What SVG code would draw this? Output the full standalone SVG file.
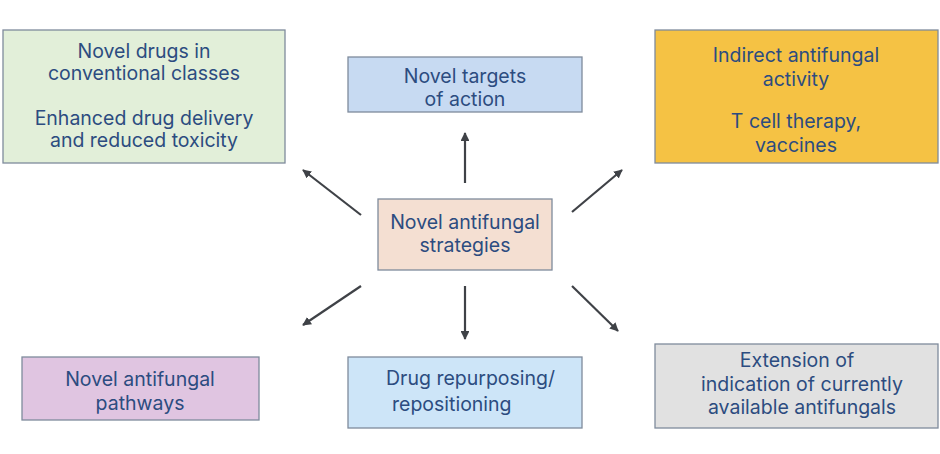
<svg xmlns="http://www.w3.org/2000/svg" width="940" height="454" viewBox="0 0 940 454">
<defs>
<marker id="ah" viewBox="0 0 10 10" refX="9" refY="5" markerWidth="4" markerHeight="4" orient="auto" markerUnits="strokeWidth">
<path d="M0,0 L10,5 L0,10 z" fill="#3f4247"/>
</marker>
<style>
.box{stroke:#7f8b9c;stroke-width:1.3}
.t{font-family:Inter,"Liberation Sans",sans-serif;font-size:19.5px;fill:#2c4c80;text-anchor:middle}
.c{stroke:#3f4247;stroke-width:2.2;fill:none;marker-end:url(#ah)}
</style>
</defs>
<rect width="940" height="454" fill="#ffffff"/>
<g id="conventional">
<rect class="box" x="3" y="30" width="282" height="133" fill="#e2efd9"/>
<text class="t" x="144" y="58">Novel drugs in</text>
<text class="t" x="144" y="80">conventional classes</text>
<text class="t" x="144" y="125">Enhanced drug delivery</text>
<text class="t" x="144" y="147">and reduced toxicity</text>
</g>
<g id="targets">
<rect class="box" x="348" y="57" width="234" height="55" fill="#c7daf2"/>
<text class="t" x="465" y="83">Novel targets</text>
<text class="t" x="465" y="106">of action</text>
</g>
<g id="indirect">
<rect class="box" x="655" y="30" width="283" height="133" fill="#f5c244"/>
<text class="t" x="796" y="62">Indirect antifungal</text>
<text class="t" x="796" y="86">activity</text>
<text class="t" x="796" y="128">T cell therapy,</text>
<text class="t" x="796" y="152">vaccines</text>
</g>
<g id="center">
<rect class="box" x="378" y="199" width="174" height="71" fill="#f4dfd2"/>
<text class="t" x="465" y="229">Novel antifungal</text>
<text class="t" x="465" y="252">strategies</text>
</g>
<g id="pathways">
<rect class="box" x="22" y="357" width="237" height="63" fill="#e0c5e1"/>
<text class="t" x="140" y="386">Novel antifungal</text>
<text class="t" x="140" y="410">pathways</text>
</g>
<g id="repurposing">
<rect class="box" x="348" y="357" width="234" height="71" fill="#cde5f8"/>
<text class="t" x="386" y="385" style="text-anchor:start">Drug repurposing/</text>
<text class="t" x="392" y="411" style="text-anchor:start">repositioning</text>
</g>
<g id="extension">
<rect class="box" x="655" y="344" width="283" height="84" fill="#e1e1e1"/>
<text class="t" x="797" y="367">Extension of</text>
<text class="t" x="802" y="391">indication of currently</text>
<text class="t" x="802" y="414">available antifungals</text>
</g>
<g id="connectors">
<line class="c" x1="361" y1="215" x2="303" y2="170"/>
<line class="c" x1="465" y1="183" x2="465" y2="133"/>
<line class="c" x1="572" y1="212" x2="622" y2="170"/>
<line class="c" x1="361" y1="286" x2="303" y2="325"/>
<line class="c" x1="465" y1="286" x2="465" y2="339"/>
<line class="c" x1="572" y1="286" x2="618" y2="331"/>
</g>
</svg>
